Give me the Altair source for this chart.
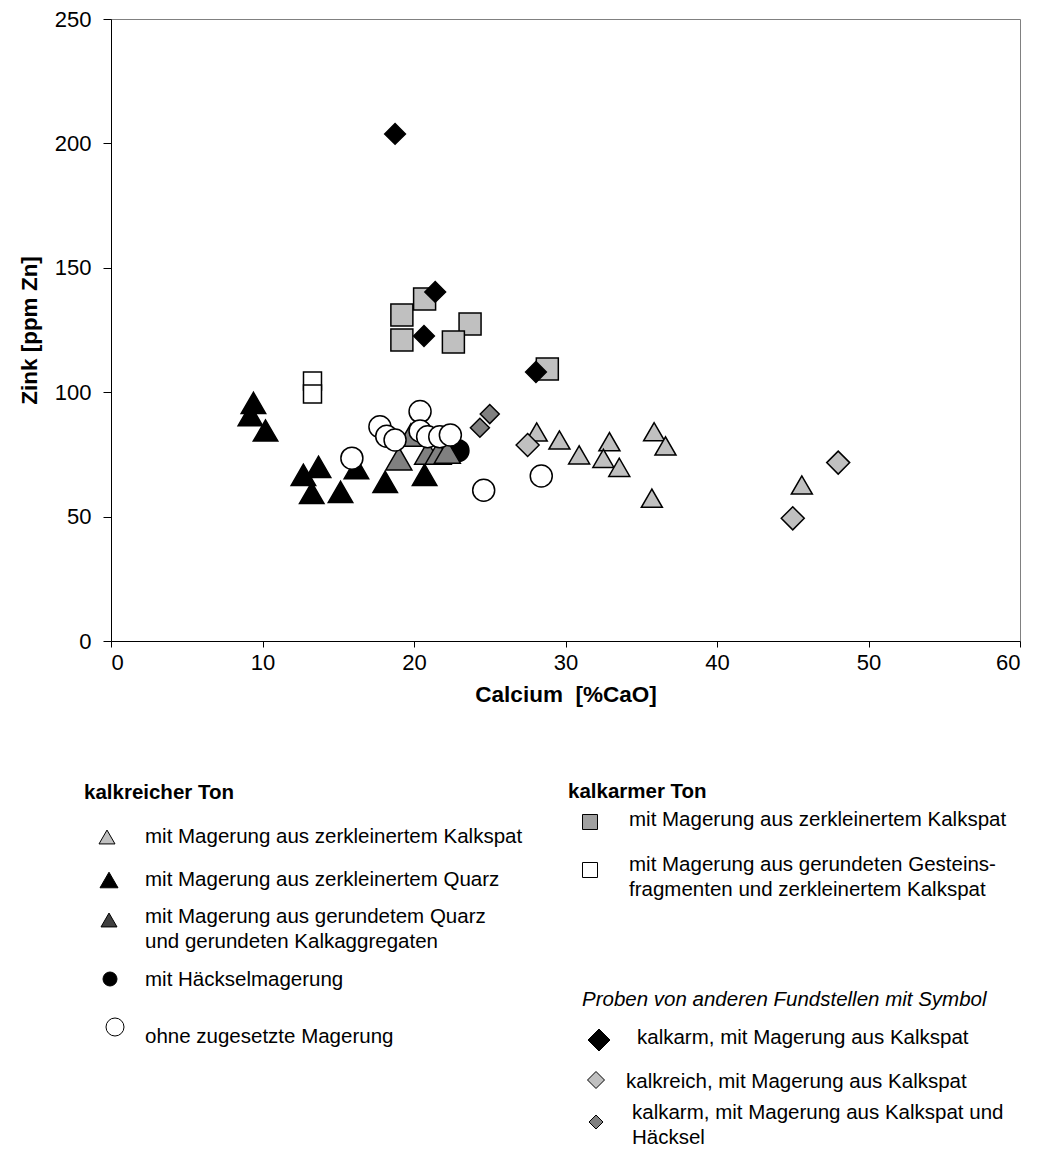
import altair as alt
import pandas as pd

FONT = "Liberation Sans"

# ================= DATA =================
# kalkreicher Ton
lt_x = [28.1, 29.6, 30.9, 32.9, 32.5, 33.55, 35.85, 36.6, 35.7, 45.6]   # zerkleinerter Kalkspat
lt_y = [84.0, 80.8, 74.8, 80.1, 73.4, 69.8, 84.1, 78.4, 57.4, 62.7]
bt_x = [9.4, 9.2, 10.2, 13.7, 12.7, 13.25, 15.15, 16.2, 18.1, 20.7]     # zerkleinerter Quarz
bt_y = [95.7, 90.8, 84.6, 70.0, 66.8, 59.5, 59.9, 69.5, 64.0, 66.8]
hc_x = [22.9]                                                            # Häckselmagerung
hc_y = [76.5]
dt_x = [19.0, 19.8, 20.9, 21.6, 22.2]                                    # gerundeter Quarz + Kalkaggregate
dt_y = [73.3, 82.8, 75.6, 75.6, 76.0]
wc_x = [15.9, 17.75, 18.2, 18.75, 20.4, 20.4, 20.9, 21.7, 22.4, 24.6, 28.4]  # ohne Magerung
wc_y = [73.5, 86.1, 82.3, 80.8, 92.2, 84.4, 82.1, 82.1, 82.8, 60.6, 66.3]
# kalkarmer Ton
gs_x = [19.2, 20.7, 19.2, 23.7, 22.6, 28.8]
gs_y = [131.0, 137.5, 121.0, 127.4, 120.2, 109.3]
ws_x = [13.3, 13.3]
ws_y = [104.5, 99.3]
# Proben von anderen Fundstellen
bd_x = [18.75, 21.4, 20.66, 28.05]
bd_y = [203.8, 140.3, 122.6, 108.1]
ld_x = [27.5, 48.0, 45.0]
ld_y = [78.8, 71.7, 49.3]
sd_x = [25.0, 24.35]
sd_y = [91.2, 85.7]

x_ticks = [0, 10, 20, 30, 40, 50, 60]
y_ticks = [0, 50, 100, 150, 200, 250]

# legend texts
leg1_title = "kalkreicher Ton"
leg1_labels = [
    ["mit Magerung aus zerkleinertem Kalkspat"],
    ["mit Magerung aus zerkleinertem Quarz"],
    ["mit Magerung aus gerundetem Quarz", "und gerundeten Kalkaggregaten"],
    ["mit Häckselmagerung"],
    ["ohne zugesetzte Magerung"],
]
leg2_title = "kalkarmer Ton"
leg2_labels = [
    ["mit Magerung aus zerkleinertem Kalkspat"],
    ["mit Magerung aus gerundeten Gesteins-", "fragmenten und zerkleinertem Kalkspat"],
]
leg3_title = "Proben von anderen Fundstellen mit Symbol"
leg3_labels = [
    ["kalkarm, mit Magerung aus Kalkspat"],
    ["kalkreich, mit Magerung aus Kalkspat"],
    ["kalkarm, mit Magerung aus Kalkspat und", "Häcksel"],
]

# ================= STYLE / LAYOUT =================
LIGHT, DARK, BLACK, WHITE = "#C0C0C0", "#808080", "#000000", "#FFFFFF"

series = [  # drawing order
    (lt_x, lt_y, "triangle-up", LIGHT, 441),
    (bt_x, bt_y, "triangle-up", BLACK, 600),
    (hc_x, hc_y, "circle", BLACK, 484),
    (dt_x, dt_y, "triangle-up", DARK, 676),
    (wc_x, wc_y, "circle", WHITE, 484),
    (gs_x, gs_y, "square", LIGHT, 484),
    (ws_x, ws_y, "square", WHITE, 324),
    (ld_x, ld_y, "diamond", LIGHT, 529),
    (sd_x, sd_y, "diamond", DARK, 361),
    (bd_x, bd_y, "diamond", BLACK, 430),
]

# legend layout, pixel offsets from plot-area origin
legend_layout = [
    dict(title=leg1_title, italic=False, tpos=(-27, 774), labels=leg1_labels,
         sym=[(-4, 818, "triangle-up", LIGHT, 256), (-2, 861, "triangle-up", BLACK, 324),
              (-2, 901, "triangle-up", "#404040", 256), (-1, 960, "circle", BLACK, 196),
              (4, 1008, "circle", WHITE, 324)],
         lab=[(34, 818), (34, 861), (34, 898), (34, 961), (34, 1018)]),
    dict(title=leg2_title, italic=False, tpos=(457, 773), labels=leg2_labels,
         sym=[(479, 803, "square", "#A0A0A0", 225), (479, 851, "square", WHITE, 225)],
         lab=[(518, 801), (518, 846)]),
    dict(title=leg3_title, italic=True, tpos=(471, 981), labels=leg3_labels,
         sym=[(488, 1021, "diamond", BLACK, 484), (485, 1061, "diamond", LIGHT, 289),
              (485, 1103, "diamond", DARK, 196)],
         lab=[(526, 1019), (515, 1063), (521, 1094)]),
]
LINE_H = 25

# ================= CHART =================
x_enc = alt.X(
    "x:Q", scale=alt.Scale(domain=[0, 60], nice=False),
    axis=alt.Axis(values=x_ticks, title="Calcium\u00a0 [%CaO]", grid=False,
                  tickSize=6, labelPadding=5, titlePadding=10),
)
y_enc = alt.Y(
    "y:Q", scale=alt.Scale(domain=[0, 250], nice=False),
    axis=alt.Axis(values=y_ticks, title="Zink [ppm Zn]", grid=False,
                  tickSize=8, labelPadding=12, titlePadding=12.5),
)

layers = []
for xs, ys, shape, fill, size in series:
    df = pd.DataFrame({"x": xs, "y": ys})
    layers.append(
        alt.Chart(df).mark_point(
            shape=shape, fill=fill, filled=True, size=size, opacity=1,
            stroke="black", strokeWidth=1.5,
        ).encode(x=x_enc, y=y_enc)
    )

sym_rows, lab_rows, tb_rows, ti_rows = [], [], [], []
for L in legend_layout:
    (ti_rows if L["italic"] else tb_rows).append(
        {"px": L["tpos"][0], "py": L["tpos"][1], "text": L["title"]})
    for (sx, sy, sh, sf, ss) in L["sym"]:
        sym_rows.append({"px": sx, "py": sy, "shape": sh, "fill": sf, "size": ss})
    for lines, (lx, ly) in zip(L["labels"], L["lab"]):
        for i, line in enumerate(lines):
            lab_rows.append({"px": lx, "py": ly + i * LINE_H, "text": line})

px_enc = alt.X("px:Q", scale=None, axis=None)
py_enc = alt.Y("py:Q", scale=None, axis=None)

leg_symbols = alt.Chart(pd.DataFrame(sym_rows)).mark_point(
    filled=True, opacity=1, stroke="black", strokeWidth=1
).encode(
    x=px_enc, y=py_enc,
    shape=alt.Shape("shape:N", scale=None),
    fill=alt.Fill("fill:N", scale=None),
    size=alt.Size("size:Q", scale=None),
)
leg_labels = alt.Chart(pd.DataFrame(lab_rows)).mark_text(
    align="left", baseline="middle", font=FONT, fontSize=20.5, color="black"
).encode(x=px_enc, y=py_enc, text="text:N")
leg_titles_b = alt.Chart(pd.DataFrame(tb_rows)).mark_text(
    align="left", baseline="middle", font=FONT, fontSize=20.5, fontWeight="bold", color="black"
).encode(x=px_enc, y=py_enc, text="text:N")
leg_titles_i = alt.Chart(pd.DataFrame(ti_rows)).mark_text(
    align="left", baseline="middle", font=FONT, fontSize=20.5, fontStyle="italic", color="black"
).encode(x=px_enc, y=py_enc, text="text:N")

chart = alt.layer(
    *layers, leg_symbols, leg_labels, leg_titles_b, leg_titles_i
).properties(
    width=909, height=622,
    autosize=alt.AutoSizeParams(type="none"),
    padding={"left": 103, "top": 11, "right": 10, "bottom": 510},
).configure_view(
    stroke="#808080", strokeWidth=1
).configure_axis(
    labelFont=FONT, labelFontSize=22, labelColor="black",
    titleFont=FONT, titleFontSize=22.5, titleFontWeight="bold", titleColor="black",
    domainColor="black", tickColor="black", domainWidth=1,
)

chart.save("out.html", embed_options={"renderer": "svg", "actions": False})
